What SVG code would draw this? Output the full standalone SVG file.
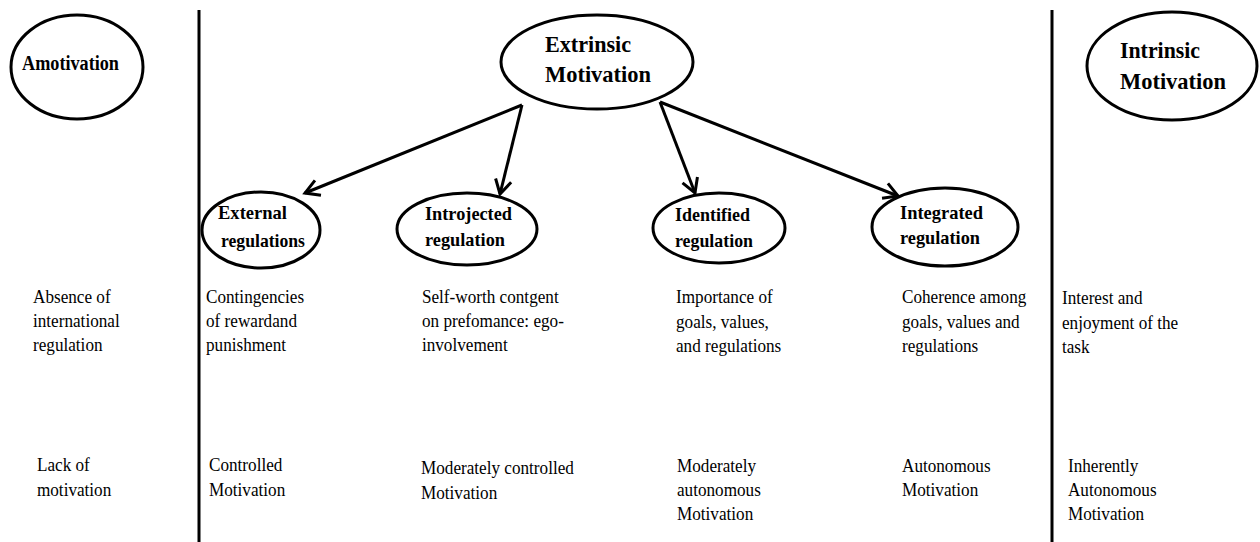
<svg xmlns="http://www.w3.org/2000/svg" width="1260" height="542" viewBox="0 0 1260 542">
<style>
.n{fill:#fff;stroke:#000;stroke-width:3}
.h{font-family:"Liberation Serif",serif;font-weight:bold;fill:#000}
.b{font-family:"Liberation Serif",serif;font-size:19.5px;fill:#000}
.c{stroke:#000;stroke-width:3;fill:none}
</style>
<defs>
<marker id="ah" markerUnits="userSpaceOnUse" markerWidth="20" markerHeight="20" refX="16" refY="9" orient="auto" viewBox="0 0 20 18">
<path d="M2,1 L16,9 L2,17" fill="none" stroke="#000" stroke-width="3"/>
</marker>
</defs>
<rect width="1260" height="542" fill="#fff"/>
<g id="dividers">
<line x1="199" y1="10" x2="199" y2="542" class="c"/>
<line x1="1052" y1="10" x2="1052" y2="542" class="c"/>
</g>
<g id="connectors">
<line x1="522" y1="105" x2="305" y2="193" class="c" marker-end="url(#ah)"/>
<line x1="522" y1="105" x2="500" y2="194" class="c" marker-end="url(#ah)"/>
<line x1="660" y1="102" x2="695" y2="193" class="c" marker-end="url(#ah)"/>
<line x1="660" y1="102" x2="898" y2="196" class="c" marker-end="url(#ah)"/>
</g>
<g id="amotivation">
<ellipse cx="77" cy="67" rx="66" ry="52" class="n"/>
<text x="22" y="70" class="h" font-size="20" textLength="97" lengthAdjust="spacingAndGlyphs">Amotivation</text>
</g>
<g id="extrinsic">
<ellipse cx="597" cy="62" rx="96" ry="47" class="n"/>
<text x="545" y="52" class="h" font-size="24" textLength="86" lengthAdjust="spacingAndGlyphs">Extrinsic</text>
<text x="545" y="82" class="h" font-size="24" textLength="106" lengthAdjust="spacingAndGlyphs">Motivation</text>
</g>
<g id="intrinsic">
<ellipse cx="1172" cy="66" rx="85" ry="54" class="n"/>
<text x="1120" y="58" class="h" font-size="24" textLength="80" lengthAdjust="spacingAndGlyphs">Intrinsic</text>
<text x="1120" y="89" class="h" font-size="24" textLength="106" lengthAdjust="spacingAndGlyphs">Motivation</text>
</g>
<g id="external">
<ellipse cx="261" cy="230" rx="59" ry="38" class="n"/>
<text x="218" y="219" class="h" font-size="19.5" textLength="69" lengthAdjust="spacingAndGlyphs">External</text>
<text x="221" y="247" class="h" font-size="19.5" textLength="84" lengthAdjust="spacingAndGlyphs">regulations</text>
</g>
<g id="introjected">
<ellipse cx="467" cy="229" rx="70" ry="36" class="n"/>
<text x="425" y="220" class="h" font-size="19.5" textLength="87" lengthAdjust="spacingAndGlyphs">Introjected</text>
<text x="425" y="246" class="h" font-size="19.5" textLength="80" lengthAdjust="spacingAndGlyphs">regulation</text>
</g>
<g id="identified">
<ellipse cx="719" cy="228" rx="66" ry="35" class="n"/>
<text x="675" y="221" class="h" font-size="19.5" textLength="75" lengthAdjust="spacingAndGlyphs">Identified</text>
<text x="675" y="247" class="h" font-size="19.5" textLength="78" lengthAdjust="spacingAndGlyphs">regulation</text>
</g>
<g id="integrated">
<ellipse cx="945" cy="227" rx="73" ry="39" class="n"/>
<text x="900" y="219" class="h" font-size="19.5" textLength="83" lengthAdjust="spacingAndGlyphs">Integrated</text>
<text x="900" y="244" class="h" font-size="19.5" textLength="80" lengthAdjust="spacingAndGlyphs">regulation</text>
</g>
<g id="descriptions" transform="scale(0.88,1)">
<text class="b"><tspan x="37.5" y="303">Absence of</tspan><tspan x="37.5" y="327">international</tspan><tspan x="37.5" y="351">regulation</tspan></text>
<text class="b"><tspan x="234.1" y="303">Contingencies</tspan><tspan x="234.1" y="327">of rewardand</tspan><tspan x="234.1" y="351">punishment</tspan></text>
<text class="b"><tspan x="479.5" y="303">Self-worth contgent</tspan><tspan x="479.5" y="327">on prefomance: ego-</tspan><tspan x="479.5" y="351">involvement</tspan></text>
<text class="b"><tspan x="768.2" y="303">Importance of</tspan><tspan x="768.2" y="328">goals, values,</tspan><tspan x="768.2" y="352">and regulations</tspan></text>
<text class="b"><tspan x="1025" y="303">Coherence among</tspan><tspan x="1025" y="328">goals, values and</tspan><tspan x="1025" y="352">regulations</tspan></text>
<text class="b"><tspan x="1206.8" y="304">Interest and</tspan><tspan x="1206.8" y="329">enjoyment of the</tspan><tspan x="1206.8" y="353">task</tspan></text>
</g>
<g id="levels" transform="scale(0.88,1)">
<text class="b"><tspan x="42" y="471">Lack of</tspan><tspan x="42" y="496">motivation</tspan></text>
<text class="b"><tspan x="237.5" y="471">Controlled</tspan><tspan x="237.5" y="496">Motivation</tspan></text>
<text class="b"><tspan x="478.4" y="474">Moderately controlled</tspan><tspan x="478.4" y="499">Motivation</tspan></text>
<text class="b"><tspan x="769.3" y="472">Moderately</tspan><tspan x="769.3" y="496">autonomous</tspan><tspan x="769.3" y="520">Motivation</tspan></text>
<text class="b"><tspan x="1025" y="472">Autonomous</tspan><tspan x="1025" y="496">Motivation</tspan></text>
<text class="b"><tspan x="1213.6" y="472">Inherently</tspan><tspan x="1213.6" y="496">Autonomous</tspan><tspan x="1213.6" y="520">Motivation</tspan></text>
</g>
</svg>
